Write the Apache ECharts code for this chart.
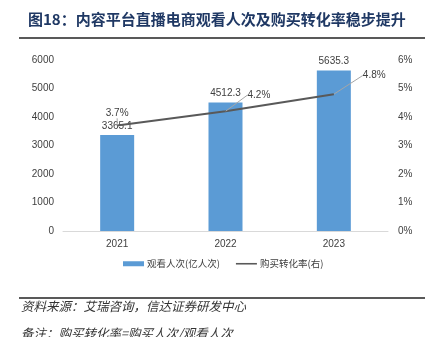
<!DOCTYPE html>
<html>
<head>
<meta charset="utf-8">
<script src="https://cdn.jsdelivr.net/npm/echarts@6/dist/echarts.min.js"></script>
<style>
html,body{margin:0;padding:0;background:#fff;}
#c{width:431px;height:337px;}
</style>
</head>
<body>
<div id="c"></div>
<script>
const categories = ['2021', '2022', '2023'];
const viewCounts = [3365.1, 4512.3, 5635.3];
const conversionRates = [3.7, 4.2, 4.8];
const leftTicks = [0, 1000, 2000, 3000, 4000, 5000, 6000];
const rightTicks = [0, 1, 2, 3, 4, 5, 6];
const titleText = '图18：内容平台直播电商观看人次及购买转化率稳步提升';
const sourceText = '资料来源：艾瑞咨询，信达证券研发中心';
const noteText = '备注：购买转化率=购买人次/观看人次';
const seriesNames = ['观看人次(亿人次)', '购买转化率(右)'];

const numFont = 'Liberation Sans, Noto Sans CJK SC, sans-serif';
const cjkFont = 'Noto Sans CJK SC, sans-serif';
const chart = echarts.init(document.getElementById('c'), null, {renderer: 'canvas'});
const labelShift = [[0, 0], [17, -15.5], [24, -18]];

chart.setOption({
  animation: false,
  backgroundColor: '#ffffff',
  grid: {left: 63, right: 43, top: 60, bottom: 106, containLabel: false},
  legend: {
    left: 123, top: 259,
    itemWidth: 21, itemHeight: 5, itemGap: 16, padding: 0,
    textStyle: {fontFamily: cjkFont, fontSize: 9.5, color: '#404040', padding: [0, 0, 0, -2]},
    data: [
      {name: seriesNames[0], icon: 'rect'},
      {name: seriesNames[1], icon: 'path://M0,0H21V1.6H0Z'}
    ]
  },
  xAxis: {
    type: 'category',
    data: categories,
    axisLine: {lineStyle: {color: '#d9d9d9', width: 1}},
    axisTick: {show: false},
    axisLabel: {fontFamily: numFont, fontSize: 10, color: '#404040', margin: 8}
  },
  yAxis: [
    {
      type: 'value', min: leftTicks[0], max: leftTicks[leftTicks.length - 1], interval: 1000,
      splitLine: {show: false}, axisLine: {show: false}, axisTick: {show: false},
      axisLabel: {fontFamily: numFont, fontSize: 10, color: '#404040', margin: 9, formatter: v => String(v)}
    },
    {
      type: 'value', min: rightTicks[0], max: rightTicks[rightTicks.length - 1], interval: 1,
      splitLine: {show: false}, axisLine: {show: false}, axisTick: {show: false},
      axisLabel: {fontFamily: numFont, fontSize: 10, color: '#404040', margin: 10, formatter: '{value}%'}
    }
  ],
  series: [
    {
      name: seriesNames[0],
      type: 'bar',
      data: viewCounts,
      barWidth: 34,
      itemStyle: {color: '#5b9bd5'},
      label: {
        show: true, position: 'top', distance: 4,
        fontFamily: numFont, fontSize: 10, color: '#404040',
        formatter: p => p.value.toFixed(1)
      },
      z: 2
    },
    {
      name: seriesNames[1],
      type: 'line',
      yAxisIndex: 1,
      data: conversionRates,
      symbol: 'circle',
      symbolSize: 0.5,
      showSymbol: true,
      lineStyle: {color: '#595959', width: 2},
      itemStyle: {color: '#595959'},
      label: {
        show: true,
        fontFamily: numFont, fontSize: 10, color: '#404040',
        formatter: p => p.value.toFixed(1) + '%',
        position: 'top', distance: 7
      },
      labelLine: {show: true, lineStyle: {color: '#a6a6a6', width: 1}},
      labelLayout: function (params) {
        const s = labelShift[params.dataIndex];
        if (params.dataIndex === 0) return {};
        return {
          x: params.rect.x + params.rect.width / 2 + s[0] + 5,
          y: params.rect.y + params.rect.height + s[1] - 1,
          align: 'left', verticalAlign: 'middle'
        };
      },
      z: 3
    }
  ],
  graphic: [
    {type: 'text', left: 28, top: 12,
     style: {text: titleText, fontFamily: cjkFont, fontSize: 15, fontWeight: 'bold', fill: '#1f3864'}},
    {type: 'line', shape: {x1: 19, y1: 38, x2: 425, y2: 38}, style: {stroke: '#595959', lineWidth: 2}},
    {type: 'line', shape: {x1: 19, y1: 298, x2: 425, y2: 298}, style: {stroke: '#595959', lineWidth: 2}},
    {type: 'text', left: 21, top: 300,
     style: {text: sourceText, fontFamily: cjkFont, fontSize: 12.5, fontStyle: 'italic', fill: '#333333'}},
    {type: 'text', left: 21, top: 327,
     style: {text: noteText, fontFamily: cjkFont, fontSize: 12.5, fontStyle: 'italic', fill: '#333333'}}
  ]
});
</script>
</body>
</html>
